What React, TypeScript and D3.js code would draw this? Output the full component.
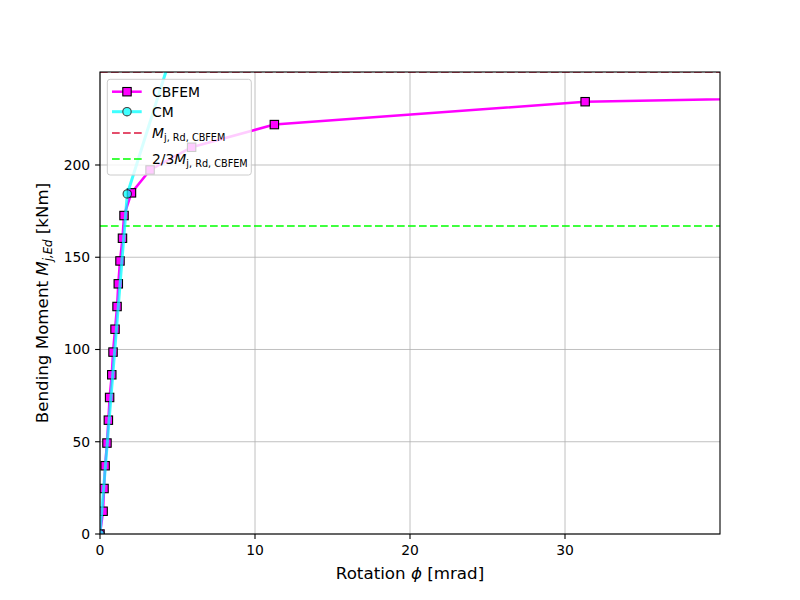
import * as d3 from "d3";
import React, { useEffect, useRef } from "react";

// CBFEM moment-rotation points (rotation in mrad, moment in kNm)
const cbfemRotation = [0, 0.2, 0.26, 0.33, 0.45, 0.54, 0.62, 0.76, 0.84, 0.97, 1.1, 1.18, 1.29, 1.45, 1.55, 2.03, 3.23, 5.91, 11.25, 31.3, 110];
const cbfemMoment = [0, 12.33, 24.66, 37.0, 49.3, 61.7, 74.0, 86.3, 98.6, 111.0, 123.3, 135.6, 148.0, 160.3, 172.6, 184.9, 197.3, 209.6, 221.9, 234.3, 246.6];

// component method curve
const cmRotation = [0, 1.76, 4.6];
const cmMoment = [0, 184.3, 259.8];

const mRdCbfem = 250.4;
const xTicks = [0, 10, 20, 30];
const yTicks = [0, 50, 100, 150, 200];

export default function App() {
  const ref = useRef<SVGSVGElement>(null);

  useEffect(() => {
    const width = 800,
      height = 600;
    const left = 100,
      right = 720,
      top = 72,
      bottom = 534;
    const font = "DejaVu Sans, sans-serif";

    const svg = d3.select(ref.current);
    svg.selectAll("*").remove();

    const x = d3.scaleLinear().domain([0, 40]).range([left, right]);
    const y = d3.scaleLinear().domain([0, mRdCbfem]).range([bottom, top]);

    svg.append("rect").attr("width", width).attr("height", height).attr("fill", "white");

    svg.append("defs")
      .append("clipPath")
      .attr("id", "plotclip")
      .append("rect")
      .attr("x", left)
      .attr("y", top)
      .attr("width", right - left)
      .attr("height", bottom - top);

    // grid
    const grid = svg.append("g").attr("stroke", "#b0b0b0").attr("stroke-width", 0.8);
    xTicks.forEach((t) => {
      grid.append("line").attr("x1", x(t)).attr("x2", x(t)).attr("y1", top).attr("y2", bottom);
    });
    yTicks.forEach((t) => {
      grid.append("line").attr("x1", left).attr("x2", right).attr("y1", y(t)).attr("y2", y(t));
    });

    const plot = svg.append("g").attr("clip-path", "url(#plotclip)");

    const cbfem = cbfemRotation.map((r, i) => [r, cbfemMoment[i]] as [number, number]);
    const cm = cmRotation.map((r, i) => [r, cmMoment[i]] as [number, number]);
    const line = d3.line<[number, number]>().x((d) => x(d[0])).y((d) => y(d[1]));

    // design resistance lines
    plot.append("line")
      .attr("x1", left).attr("x2", right)
      .attr("y1", y(mRdCbfem)).attr("y2", y(mRdCbfem))
      .attr("stroke", "#dc143c").attr("stroke-width", 1.5).attr("stroke-dasharray", "7.7,3.3");
    plot.append("line")
      .attr("x1", left).attr("x2", right)
      .attr("y1", y((2 / 3) * mRdCbfem)).attr("y2", y((2 / 3) * mRdCbfem))
      .attr("stroke", "#00ff00").attr("stroke-width", 1.5).attr("stroke-dasharray", "7.7,3.3");

    // CBFEM
    plot.append("path").attr("d", line(cbfem)).attr("fill", "none").attr("stroke", "#ff00ff").attr("stroke-width", 2.5);
    plot.selectAll("rect.cb")
      .data(cbfem)
      .join("rect")
      .attr("class", "cb")
      .attr("x", (d) => x(d[0]) - 4.2)
      .attr("y", (d) => y(d[1]) - 4.2)
      .attr("width", 8.4)
      .attr("height", 8.4)
      .attr("fill", "#ff00ff")
      .attr("stroke", "black")
      .attr("stroke-width", 1.1);

    // CM
    const cmG = plot.append("g").attr("opacity", 0.75);
    cmG.append("path").attr("d", line(cm)).attr("fill", "none").attr("stroke", "#00ffff").attr("stroke-width", 3);
    cmG.selectAll("circle")
      .data(cm)
      .join("circle")
      .attr("cx", (d) => x(d[0]))
      .attr("cy", (d) => y(d[1]))
      .attr("r", 4.2)
      .attr("fill", "#00ffff")
      .attr("stroke", "black")
      .attr("stroke-width", 1.1);

    // spines
    svg.append("rect")
      .attr("x", left).attr("y", top)
      .attr("width", right - left).attr("height", bottom - top)
      .attr("fill", "none").attr("stroke", "black").attr("stroke-width", 1.1);

    // ticks
    const xAxis = svg.append("g");
    xTicks.forEach((t) => {
      xAxis.append("line").attr("x1", x(t)).attr("x2", x(t)).attr("y1", bottom).attr("y2", bottom + 4.9).attr("stroke", "black").attr("stroke-width", 1.1);
      xAxis.append("text")
        .attr("x", x(t)).attr("y", bottom + 9.8).attr("dy", "0.78em")
        .attr("text-anchor", "middle").attr("font-family", font).attr("font-size", 13.9)
        .text(t);
    });
    const yAxis = svg.append("g");
    yTicks.forEach((t) => {
      yAxis.append("line").attr("x1", left - 4.9).attr("x2", left).attr("y1", y(t)).attr("y2", y(t)).attr("stroke", "black").attr("stroke-width", 1.1);
      yAxis.append("text")
        .attr("x", left - 9.8).attr("y", y(t)).attr("dy", "0.36em")
        .attr("text-anchor", "end").attr("font-family", font).attr("font-size", 13.9)
        .text(t);
    });

    // axis labels
    const xl = svg.append("text")
      .attr("x", (left + right) / 2).attr("y", 579)
      .attr("text-anchor", "middle").attr("font-family", font).attr("font-size", 16.7);
    xl.append("tspan").text("Rotation ");
    xl.append("tspan").attr("font-style", "italic").text("\u03d5");
    xl.append("tspan").text(" [mrad]");

    const yl = svg.append("text")
      .attr("transform", `translate(48, ${(top + bottom) / 2}) rotate(-90)`)
      .attr("text-anchor", "middle").attr("font-family", font).attr("font-size", 16.7);
    yl.append("tspan").text("Bending Moment ");
    yl.append("tspan").attr("font-style", "italic").text("M");
    yl.append("tspan").attr("font-style", "italic").attr("font-size", 11.7).attr("dy", 3.5).text("j,Ed");
    yl.append("tspan").attr("dy", -3.5).text(" [kNm]");

    // legend
    const lg = svg.append("g");
    lg.append("rect")
      .attr("x", 107.3).attr("y", 79.3).attr("width", 144).attr("height", 95.7).attr("rx", 2.8)
      .attr("fill", "white").attr("fill-opacity", 0.8).attr("stroke", "#cccccc").attr("stroke-width", 1);
    const hx1 = 112, hx2 = 141.7, hm = 127, tx = 152;
    const rows = [91.7, 111.7, 133, 159];

    lg.append("line").attr("x1", hx1).attr("x2", hx2).attr("y1", rows[0]).attr("y2", rows[0]).attr("stroke", "#ff00ff").attr("stroke-width", 2.5);
    lg.append("rect").attr("x", hm - 4.2).attr("y", rows[0] - 4.2).attr("width", 8.4).attr("height", 8.4).attr("fill", "#ff00ff").attr("stroke", "black").attr("stroke-width", 1.1);
    const lc = lg.append("g").attr("opacity", 0.75);
    lc.append("line").attr("x1", hx1).attr("x2", hx2).attr("y1", rows[1]).attr("y2", rows[1]).attr("stroke", "#00ffff").attr("stroke-width", 3);
    lc.append("circle").attr("cx", hm).attr("cy", rows[1]).attr("r", 4.2).attr("fill", "#00ffff").attr("stroke", "black").attr("stroke-width", 1.1);
    lg.append("line").attr("x1", hx1).attr("x2", hx2).attr("y1", rows[2]).attr("y2", rows[2]).attr("stroke", "#dc143c").attr("stroke-width", 1.5).attr("stroke-dasharray", "7.7,3.3");
    lg.append("line").attr("x1", hx1).attr("x2", hx2).attr("y1", rows[3]).attr("y2", rows[3]).attr("stroke", "#00ff00").attr("stroke-width", 1.5).attr("stroke-dasharray", "7.7,3.3");

    const lt = (row: number) =>
      lg.append("text").attr("x", tx).attr("y", row).attr("dy", "0.36em").attr("font-family", font).attr("font-size", 13.9);
    lt(rows[0]).text("CBFEM");
    lt(rows[1]).text("CM");
    const t3 = lt(rows[2]);
    t3.append("tspan").attr("font-style", "italic").text("M");
    t3.append("tspan").attr("font-size", 9.7).attr("dy", 3).text("j, Rd, CBFEM");
    const t4 = lt(rows[3]);
    t4.append("tspan").text("2/3");
    t4.append("tspan").attr("font-style", "italic").text("M");
    t4.append("tspan").attr("font-size", 9.7).attr("dy", 3).text("j, Rd, CBFEM");
  }, []);

  return (
    <svg
      ref={ref}
      width={800}
      height={600}
      style={{ position: "absolute", left: 0, top: 0 }}
    />
  );
}
